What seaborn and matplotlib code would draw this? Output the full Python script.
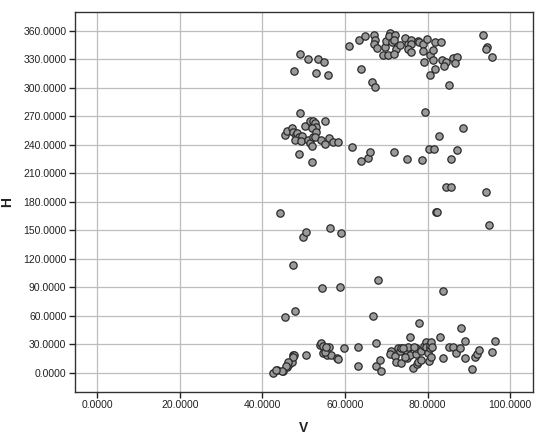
import matplotlib
matplotlib.use("Agg")
import matplotlib.pyplot as plt
import seaborn as sns
import pandas as pd
from matplotlib.ticker import FormatStrFormatter

# Top cluster (H ~ 300-360)
v_top = [49.1, 51.1, 53.4, 55.0, 47.6, 52.9, 55.9, 60.9, 63.4, 64.8, 63.8, 66.6, 67.2,
         67.0, 67.3, 67.1, 67.7, 69.2, 70.5, 69.7, 69.9, 70.9, 70.6, 71.3, 72.1, 71.8,
         72.3, 71.8, 73.3, 74.5, 75.2, 76.1, 76.0, 75.3, 76.1, 77.6, 78.0, 78.8, 78.9,
         79.8, 79.1, 80.6, 81.4, 81.8, 83.3, 81.2, 81.9, 80.7, 83.4, 84.4, 84.0, 86.1,
         87.1, 86.7, 85.3, 93.4, 94.4, 94.1, 95.7]
h_top = [335.8, 329.9, 329.9, 327.0, 317.9, 315.2, 313.7, 343.6, 349.9, 354.1, 319.7, 306.3, 300.7,
         355.8, 350.2, 346.3, 342.1, 334.4, 334.4, 342.5, 349.5, 357.9, 354.4, 348.1, 354.8, 349.9,
         340.7, 335.2, 345.3, 352.6, 346.0, 350.2, 346.3, 340.7, 337.3, 349.5, 347.8, 345.7, 338.6,
         351.6, 327.4, 334.7, 339.7, 347.8, 348.1, 329.2, 319.4, 313.1, 329.2, 327.4, 323.2, 331.6,
         332.6, 325.7, 302.5, 355.2, 343.2, 340.7, 331.9]

# Middle cluster (H ~ 220-275)
v_mid = [49.1, 45.4, 45.9, 47.1, 47.5, 48.1, 48.5, 48.8, 47.9, 49.5, 49.3, 50.3, 51.5, 52.3,
         52.7, 53.1, 51.9, 51.1, 51.5, 51.9, 52.3, 52.9, 52.7, 54.3, 55.1, 56.2, 57.1, 58.2,
         55.1, 48.9, 52.1, 61.6, 63.8, 65.6, 66.0, 71.8, 74.9, 78.6, 80.4, 81.5, 85.6, 87.2,
         88.6, 82.7, 79.3]
h_mid = [273.7, 250.5, 254.1, 257.9, 253.1, 250.2, 252.6, 248.4, 244.9, 249.2, 243.9, 260.0, 265.0, 265.0,
         262.5, 258.9, 257.3, 244.9, 242.1, 238.6, 247.8, 253.7, 248.4, 244.9, 240.7, 247.1, 242.8, 242.8,
         265.3, 229.9, 222.1, 237.9, 223.2, 226.3, 232.0, 232.0, 225.0, 223.9, 235.8, 235.1, 225.3, 234.4,
         257.9, 248.8, 274.7]

# Sparse points (H ~ 40-200)
v_sparse = [84.4, 85.6, 94.1, 82.0, 82.3, 44.2, 94.8, 49.9, 50.5, 56.3, 59.0, 47.5, 68.0,
            54.4, 58.7, 83.7, 45.4, 48.0, 66.8, 77.9, 88.2]
h_sparse = [195.2, 195.2, 190.5, 168.8, 168.8, 167.8, 155.1, 142.8, 148.4, 152.7, 147.1, 113.0, 97.2,
            88.8, 90.2, 86.3, 58.3, 64.6, 59.3, 52.0, 46.7]

# Bottom cluster (H ~ 0-40)
v_bot = [42.6, 43.6, 44.9, 45.9, 46.5, 47.1, 47.5, 47.7, 50.6, 47.4, 46.3, 45.8, 44.8, 43.4,
         53.9, 54.3, 54.6, 55.7, 56.2, 56.5, 58.0, 54.7, 55.1, 55.5, 58.2, 59.7, 63.1, 63.1,
         67.5, 67.6, 68.5, 68.8,
         71.2, 70.9, 72.0, 72.3, 73.6, 72.8, 73.2, 73.6, 74.9, 75.1, 75.3, 75.7, 76.4, 77.1,
         77.3, 77.4, 77.7, 78.4, 78.5, 79.2, 79.5, 79.7, 80.1, 80.3, 80.5, 80.7, 80.9, 80.8,
         81.1, 83.1, 75.8, 83.8, 85.1, 86.2, 86.8, 87.8, 89.0, 89.0, 90.8, 91.4, 91.9, 92.4,
         95.6, 96.3, 74.0, 76.6, 74.5]
h_bot = [0.0, 2.5, 1.4, 6.3, 9.2, 11.6, 18.3, 19.0, 19.0, 16.8, 10.9, 7.4, 2.1, 2.8,
         29.2, 31.6, 21.1, 18.6, 27.4, 18.6, 15.8, 28.4, 22.1, 27.4, 14.4, 26.0, 27.1, 7.1,
         31.6, 7.4, 13.0, 2.1,
         22.5, 19.3, 17.9, 11.6, 9.8, 26.0, 22.5, 26.0, 22.5, 15.5, 26.7, 18.6, 5.3, 19.3,
         25.6, 8.8, 10.9, 22.8, 13.4, 28.1, 32.6, 27.4, 20.4, 12.3, 25.6, 29.2, 32.6, 16.8,
         27.4, 37.6, 37.6, 15.5, 26.7, 27.1, 21.1, 26.3, 33.7, 15.8, 3.9, 16.8, 19.3, 23.9,
         22.1, 33.0, 26.0, 27.4, 16.8]

x_ticks = [0, 20, 40, 60, 80, 100]
y_ticks = [0, 30, 60, 90, 120, 150, 180, 210, 240, 270, 300, 330, 360]

df = pd.DataFrame({
    "V": v_top + v_mid + v_sparse + v_bot,
    "H": h_top + h_mid + h_sparse + h_bot,
})

sns.set_theme(style="white")
plt.rcParams['font.family'] = ['Liberation Sans', 'DejaVu Sans']

fig = plt.figure(figsize=(5.5, 4.38), dpi=100)
ax = fig.add_axes([0.136, 0.105, 0.833, 0.868])

sns.scatterplot(data=df, x="V", y="H", ax=ax, s=28, color="#9a9a9a",
                edgecolor="#2a2a2a", linewidth=0.9, zorder=3)

ax.set_xlim(-5.4, 105.5)
ax.set_ylim(-20.3, 379.7)
ax.set_xticks(x_ticks)
ax.set_yticks(y_ticks)
ax.xaxis.set_major_formatter(FormatStrFormatter('%.4f'))
ax.yaxis.set_major_formatter(FormatStrFormatter('%.4f'))
ax.grid(True, color="#bdbdbd", linewidth=0.9, zorder=0)
ax.set_axisbelow(True)
for sp in ax.spines.values():
    sp.set_color("#333333")
    sp.set_linewidth(1.0)
ax.tick_params(axis='both', which='major', direction='out', length=4, width=1.0,
               color="#222222", labelsize=7.5, labelcolor="#222222", pad=2,
               bottom=True, left=True)
ax.set_xlabel("V", fontsize=10, fontweight='bold', color="#222222")
ax.set_ylabel("H", fontsize=10, fontweight='bold', color="#222222")
ax.xaxis.set_label_coords(0.5, -0.075)
ax.yaxis.set_label_coords(-0.133, 0.5)

fig.savefig("out.png", dpi=100)
